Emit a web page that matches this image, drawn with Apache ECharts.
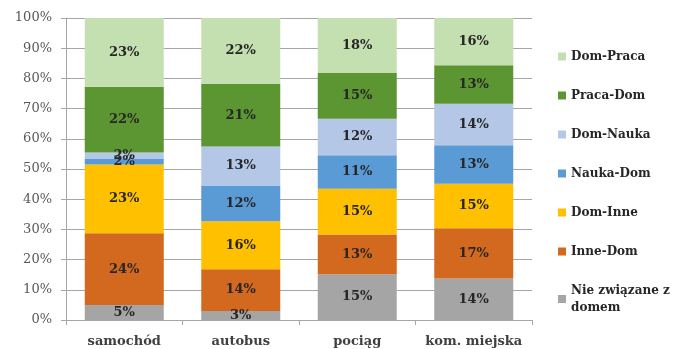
<!DOCTYPE html>
<html><head><meta charset="utf-8">
<script src="https://cdn.jsdelivr.net/npm/echarts@6/dist/echarts.min.js"></script>
<style>html,body{margin:0;padding:0;background:#fff}#c{width:675px;height:349px}</style>
</head><body><div id="c"></div>
<script>
const categories = ['samochód', 'autobus', 'pociąg', 'kom. miejska'];
const seriesNames = ['Nie związane z domem', 'Inne-Dom', 'Dom-Inne', 'Nauka-Dom', 'Dom-Nauka', 'Praca-Dom', 'Dom-Praca'];
const nieZwiazane = [5, 3, 15, 14];
const inneDom = [24, 14, 13, 17];
const domInne = [23, 16, 15, 15];
const naukaDom = [2, 12, 11, 13];
const domNauka = [2, 13, 12, 14];
const pracaDom = [22, 21, 15, 13];
const domPraca = [23, 22, 18, 16];
const yTicks = [0, 10, 20, 30, 40, 50, 60, 70, 80, 90, 100];
const colors = ['#A5A5A5', '#D2691E', '#FFC000', '#5B9BD5', '#B4C7E7', '#5B9632', '#C4DFB0'];

const raw = [nieZwiazane, inneDom, domInne, naukaDom, domNauka, pracaDom, domPraca];
const totals = categories.map((c, i) => raw.reduce((s, a) => s + a[i], 0));
const font = '"DejaVu Serif", serif';

const series = raw.map((arr, si) => ({
  name: seriesNames[si],
  type: 'bar',
  stack: 'total',
  barWidth: 79,
  itemStyle: { color: colors[si] },
  label: {
    show: true, position: 'inside',
    formatter: p => arr[p.dataIndex] + '%',
    fontFamily: font, fontWeight: 'bold', fontSize: 13, color: '#262626'
  },
  data: arr.map((v, i) => v / totals[i] * 100)
}));

const chart = echarts.init(document.getElementById('c'));
chart.setOption({
  animation: false,
  grid: { left: 66, right: 143, top: 18, bottom: 29 },
  legend: {
    orient: 'vertical', left: 553, top: 43, height: 305,
    data: seriesNames.slice().reverse(),
    itemWidth: 8, itemHeight: 8, itemGap: 22,
    icon: 'rect',
    textStyle: { fontFamily: font, fontWeight: 'bold', fontSize: 12, color: '#262626', lineHeight: 17 },
    formatter: n => n === 'Nie związane z domem' ? 'Nie związane z\ndomem' : n
  },
  xAxis: {
    type: 'category', data: categories,
    axisLine: { lineStyle: { color: '#A6A6A6' } },
    axisTick: { show: true, interval: 0, alignWithLabel: false, length: 5, lineStyle: { color: '#A6A6A6' } },
    axisLabel: { interval: 0, hideOverlap: false, fontFamily: font, fontWeight: 'bold', fontSize: 13, color: '#404040', margin: 15 }
  },
  yAxis: {
    type: 'value', min: 0, max: 100, interval: 10,
    axisLine: { show: true, lineStyle: { color: '#A6A6A6' } },
    axisTick: { show: true, length: 5, lineStyle: { color: '#A6A6A6' } },
    splitLine: { lineStyle: { color: '#A6A6A6' } },
    axisLabel: {
      fontFamily: font, fontSize: 13, color: '#595959', margin: 14,
      formatter: v => yTicks.includes(v) ? v + '%' : ''
    }
  },
  series: series
});
</script>
</body></html>
